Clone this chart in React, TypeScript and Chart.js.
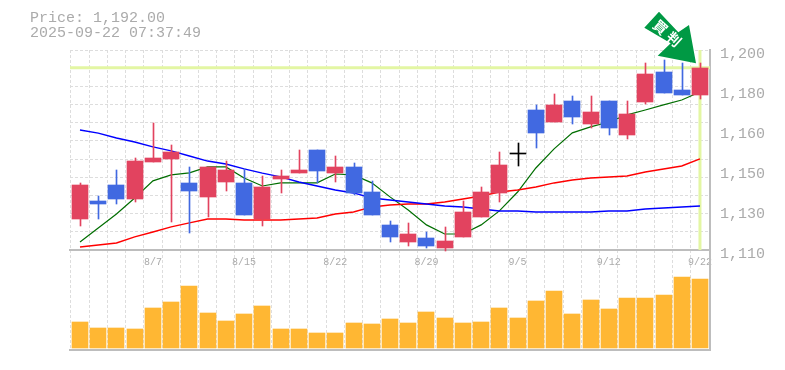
import React, { useEffect, useRef } from "react";
import { Chart, registerables } from "chart.js";

Chart.register(...registerables);

const opens = [1124,1132,1139.3,1133,1149.6,1151,1140.2,1133.9,1140.6,1140.2,1124,1142,1144.7,1155,1144.7,1147.4,1136.1,1121.3,1113.6,1115.4,1110.9,1115.9,1124.9,1135.7,1153.2,1173,1167.6,1177.1,1166.7,1177.1,1161.8,1176.6,1190.1,1182,1179.8];
const closes = [1139.3,1130.7,1133,1150,1151.4,1154.1,1136.6,1147.4,1146,1125.8,1138.4,1143.3,1146,1145.6,1147.4,1135.7,1125.8,1115.9,1117.2,1111.8,1114.1,1127.1,1136.1,1148.3,1153.2,1162.7,1175.3,1169.9,1172.1,1164.9,1171.2,1189.2,1180.7,1179.8,1192];
const highs = [1140.2,1134.3,1146,1151.4,1167.2,1157.3,1147.4,1147.4,1150.1,1146.5,1143.3,1146,1155,1155,1152.3,1149.2,1141.1,1123.1,1122.2,1118.1,1120.4,1132.1,1138.4,1154.1,1158.2,1175.3,1180.2,1179.3,1179.3,1177.1,1177.1,1194.2,1195.5,1194.2,1194.2];
const lows = [1120.8,1124,1130.7,1131.6,1149.6,1122.6,1117.7,1124.9,1136.6,1125.8,1120.8,1135.7,1144.7,1140.2,1140.6,1134.8,1125.8,1113.6,1111.8,1110.9,1109.6,1115.9,1124.9,1131.6,1147.8,1155.9,1167.6,1166.7,1164.9,1161.8,1160,1175.7,1180.7,1179.8,1178];
const blackIndex = [24];

const shortAverage = [1113.6,1119.9,1126.2,1133.4,1141.1,1143.8,1144.7,1147.4,1147.4,1142.4,1138.8,1140.2,1140.2,1140.2,1144.2,1143.8,1140.2,1133.9,1128,1121.3,1117.2,1117.2,1121.3,1127.6,1136.1,1146.9,1155.5,1162.7,1165.4,1167.6,1170.8,1173,1175.3,1177.5,1181.1];
const midAverage = [1111.4,1112.3,1113.2,1115.9,1118.1,1120.4,1122.2,1123.9,1123.9,1123.5,1123.5,1123.5,1123.9,1124.4,1126.2,1127.1,1129.4,1130.3,1130.7,1130.7,1131.6,1133,1134.3,1136.1,1137,1138.4,1140.2,1141.5,1142.4,1142.9,1143.3,1145.1,1146.5,1147.8,1151];
const longAverage = [1164,1162.6,1160.4,1158.6,1156.4,1154.6,1152.3,1150,1148.7,1146.5,1144.6,1142.9,1140.6,1138.8,1137,1135.7,1133.4,1132.5,1131.6,1130.7,1129.8,1129.4,1128.5,1127.6,1127.6,1127.1,1127.1,1127.1,1127.1,1127.6,1127.6,1128.5,1128.9,1129.4,1129.8];
const volumes = [26,20,20,19,40,46,62,35,27,34,42,19,19,15,15,25,24,29,25,36,30,25,26,40,30,47,57,34,48,39,50,50,53,71,69];

const currentPrice = 1192;
const priceTicks = [1200,1182,1164,1146,1128,1110];
const priceLabels = ["1,200","1,180","1,160","1,150","1,130","1,110"];
const dateTickIndexes = [4,9,14,19,24,29,34];
const dateLabels = ["8/7","8/15","8/22","8/29","9/5","9/12","9/22"];
const titleLines = ["Price: 1,192.00","2025-09-22 07:37:49"];
const badgeText = "買判";

const RED = "#E2435F";
const BLUE = "#4169E1";
const GOLD = "#FFB733";
const LIME = "#E3F6A3";
const GRID = "#DDDDDD";
const AXIS = "#BDBDBD";
const TEXT = "#ABABAB";
const MONO = '"Liberation Mono", monospace';

const X_MIN = -0.548;
const X_MAX = 34.55;
const PRICE_MAX = 1200;
const PRICE_BASE = 1110;
const PRICE_MIN = 1065;

const candleColors = closes.map((c, i) =>
  blackIndex.includes(i) ? "#000000" : c >= opens[i] ? RED : BLUE
);

const pixelSnap = {
  id: "pixelSnap",
  afterDatasetsUpdate(chart: any) {
    chart.data.datasets.forEach((ds: any, di: number) => {
      if (ds.type !== "bar") return;
      const thin = ds.barThickness === 1;
      chart.getDatasetMeta(di).data.forEach((el: any) => {
        el.x = Math.round(el.x) + (thin ? 0.5 : 0);
        el.y = Math.round(el.y);
        el.base = Math.round(el.base);
        if (el.base === el.y) el.y -= 1;
      });
    });
  },
};

const noPad = (s: any) => {
  s.paddingLeft = 0;
  s.paddingRight = 0;
  s.paddingTop = 0;
  s.paddingBottom = 0;
};

export default function App() {
  const ref = useRef<HTMLCanvasElement>(null);

  useEffect(() => {
    const idx = opens.map((_, i) => i);
    const line = (vals: number[], color: string, width: number) => ({
      type: "line",
      data: vals.map((y, x) => ({ x, y })),
      borderColor: color,
      borderWidth: width,
      pointRadius: 0,
      tension: 0,
      xAxisID: "x",
      yAxisID: "y",
      order: 5,
    });
    const chart = new Chart(ref.current!, {
      type: "bar",
      plugins: [pixelSnap],
      data: {
        datasets: [
          {
            type: "line",
            data: [{ x: X_MIN, y: currentPrice }, { x: X_MAX, y: currentPrice }],
            borderColor: LIME, borderWidth: 3, pointRadius: 0,
            xAxisID: "x", yAxisID: "y", order: 8,
          },
          {
            type: "line",
            data: [{ x: idx.length - 1, y: PRICE_MAX }, { x: idx.length - 1, y: PRICE_BASE }],
            borderColor: LIME, borderWidth: 3, pointRadius: 0,
            xAxisID: "x", yAxisID: "y", order: 8,
          },
          line(longAverage, "#0000FF", 1.5),
          line(midAverage, "#FF0000", 1.5),
          line(shortAverage, "#006E00", 1.2),
          {
            type: "bar",
            data: idx.map((i) => ({ x: i, y: [lows[i], highs[i]] })),
            backgroundColor: candleColors,
            barThickness: 1, grouped: false, borderWidth: 0,
            xAxisID: "x", yAxisID: "y", order: 2,
          },
          {
            type: "bar",
            data: idx.map((i) => ({
              x: i,
              y: opens[i] === closes[i] ? [opens[i], closes[i] + 0.45] : [opens[i], closes[i]],
            })),
            backgroundColor: candleColors,
            barThickness: 16, grouped: false, borderWidth: 0,
            xAxisID: "x", yAxisID: "y", order: 1,
          },
          {
            type: "bar",
            data: idx.map((i) => ({ x: i, y: volumes[i] })),
            backgroundColor: GOLD,
            barThickness: 16, grouped: false, borderWidth: 0,
            xAxisID: "x", yAxisID: "volume", order: 1,
          },
        ],
      } as any,
      options: {
        responsive: false,
        animation: false,
        events: [],
        layout: { padding: { left: 70, top: 50, right: 0, bottom: 20 } },
        plugins: { legend: { display: false }, tooltip: { enabled: false }, title: { display: false } },
        scales: {
          x: {
            type: "linear",
            position: "bottom",
            offset: false,
            min: X_MIN,
            max: X_MAX,
            afterBuildTicks: (s: any) => {
              s.ticks = [{ value: X_MIN }, ...opens.map((_, i) => ({ value: i + 0.5 })).slice(0, -1), { value: X_MAX }];
            },
            afterFit: (s: any) => { s.height = 0; noPad(s); },
            grid: { color: GRID, lineWidth: 1, drawTicks: false, offset: false },
            border: { color: AXIS, width: 2, dash: [3, 2], display: true },
            ticks: { display: false },
          },
          xDates: {
            type: "linear",
            axis: "x",
            position: { y: PRICE_BASE },
            offset: false,
            min: X_MIN,
            max: X_MAX,
            afterBuildTicks: (s: any) => {
              s.ticks = dateTickIndexes.map((value) => ({ value }));
            },
            afterFit: noPad,
            grid: { display: false, drawTicks: false, tickLength: 0, offset: false },
            border: { color: AXIS, width: 2, display: true },
            ticks: {
              autoSkip: false,
              maxRotation: 0,
              padding: 6,
              labelOffset: 0,
              color: TEXT,
              font: { family: MONO, size: 10 },
              callback: (v: any) => dateLabels[dateTickIndexes.indexOf(v)],
            },
          },
          y: {
            type: "linear",
            position: "right",
            min: PRICE_MIN,
            max: PRICE_MAX,
            afterBuildTicks: (s: any) => {
              s.ticks = priceTicks.map((value) => ({ value }));
            },
            afterFit: (s: any) => { s.width = 75; noPad(s); },
            grid: { display: false, drawTicks: false },
            border: { color: AXIS, width: 2, display: true },
            ticks: {
              padding: 10,
              labelOffset: 4,
              color: TEXT,
              font: { family: MONO, size: 15 },
              callback: (v: any) => priceLabels[priceTicks.indexOf(v)],
            },
          },
          yGrid: {
            type: "linear",
            position: "left",
            min: PRICE_MIN,
            max: PRICE_MAX,
            afterBuildTicks: (s: any) => {
              s.ticks = Array.from({ length: 11 }, (_, k) => ({
                value: PRICE_MAX - (k * (PRICE_MAX - PRICE_BASE)) / 11,
              }));
            },
            afterFit: (s: any) => { s.width = 0; noPad(s); },
            grid: { color: GRID, lineWidth: 1, drawTicks: false },
            border: { display: false, dash: [3, 2] },
            ticks: { display: false },
          },
          volume: { type: "linear", display: false, min: -2, max: 298 },
        },
      } as any,
    });
    return () => chart.destroy();
  }, []);

  return (
    <div style={{ position: "absolute", left: 0, top: 0, width: 785, height: 370, background: "#fff", overflow: "hidden" }}>
      <canvas ref={ref} width={785} height={370} style={{ position: "absolute", left: 0, top: 0 }} />
      <div style={{ position: "absolute", left: 30, top: 11, font: `15px/15px ${MONO}`, color: TEXT, whiteSpace: "pre" }}>
        {titleLines.map((t) => <div key={t}>{t}</div>)}
      </div>
      <svg width={785} height={370} style={{ position: "absolute", left: 0, top: 0 }}>
        <polygon points="644.3,27.7 659,11.7 678.3,32.3 689,25 696,63.3 657.7,55.7 670.7,43.3" fill="#009944" />
        <text x={669} y={38.5} transform="rotate(42 667 33.5)" textAnchor="middle" fontFamily='"Noto Sans CJK JP"' fontWeight={700} fontSize={14} letterSpacing={4} fill="#fff">{badgeText}</text>
      </svg>
    </div>
  );
}
